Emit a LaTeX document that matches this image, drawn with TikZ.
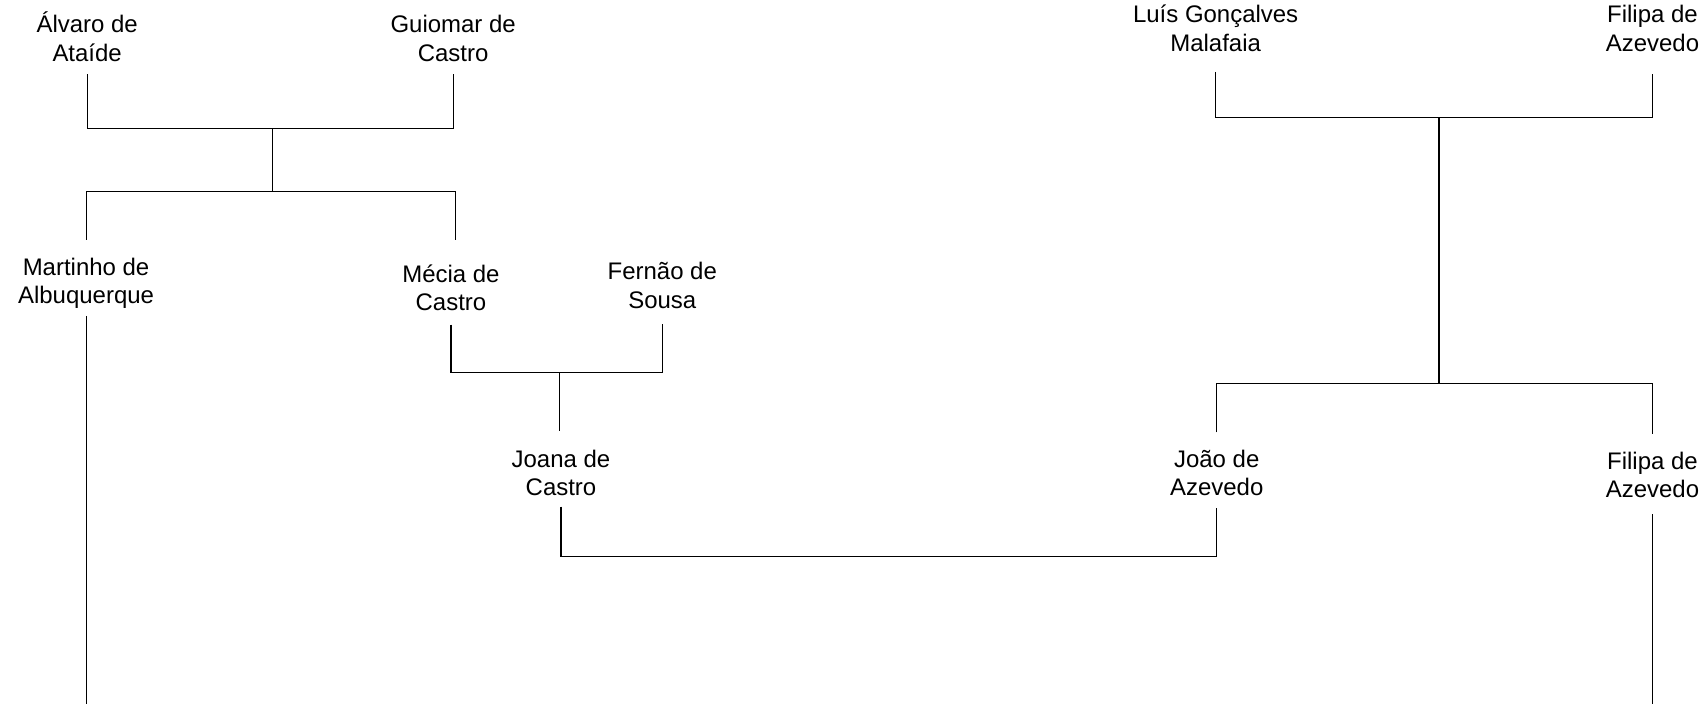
\documentclass[tikz,border=0pt]{standalone}
\usepackage{fontspec}
\setmainfont{Liberation Sans}
\newcommand{\twolines}[2]{\begin{tabular}[t]{@{}c@{}}#1\\#2\end{tabular}}
\tikzset{
  person/.style={inner sep=0pt, outer sep=0pt, anchor=base, text=black,
    font=\fontsize{22}{26}\selectfont},
  link/.style={line width=1pt, draw=black},
}
\begin{document}
\begin{tikzpicture}[x=1pt, y=-1pt]
\useasboundingbox (0,0) rectangle (1568,646);
% first generation
\node[person, text height=20pt, text depth=38pt] (alvaro)  at (80,30)   {\twolines{Álvaro de}{Ataíde}};
\node[person, text height=20pt, text depth=38pt] (guiomar) at (416,30)  {\twolines{Guiomar de}{Castro}};
\node[person, text height=20pt, text depth=45pt] (luis)    at (1116,21) {\twolines{Luís Gonçalves}{Malafaia}};
\node[person, text height=20pt, text depth=47pt] (filipaA) at (1517,21) {\twolines{Filipa de}{Azevedo}};
% second generation
\node[person, text height=33pt, text depth=37pt] (martinho) at (79,253)  {\twolines{Martinho de}{Albuquerque}};
\node[person, text height=39pt, text depth=39pt] (mecia)    at (414,259) {\twolines{Mécia de}{Castro}};
\node[person, text height=20pt, text depth=40pt] (fernao)   at (608,257) {\twolines{Fernão de}{Sousa}};
% third generation
\node[person, text height=33pt, text depth=36pt] (joana)    at (515,429)  {\twolines{Joana de}{Castro}};
\node[person, text height=32pt, text depth=37pt] (joao)     at (1117,429) {\twolines{João de}{Azevedo}};
\node[person, text height=33pt, text depth=41pt] (filipaB)  at (1517,431) {\twolines{Filipa de}{Azevedo}};
% junctions
\coordinate (u1) at (250,118);
\coordinate (c1) at (250,176);
\coordinate (u2) at (514,342);
\coordinate (m3) at (816,511);
\coordinate (u4) at (1321,108);
\coordinate (c4) at (1321,352);
\coordinate (e1) at (79,646);
\coordinate (e2) at (1517,646);
% connectors
\draw[link] (alvaro.south) |- (u1) -| (guiomar.south);
\draw[link] (u1) -- (c1);
\draw[link] (martinho.north) |- (c1) -| ([xshift=4pt]mecia.north);
\draw[link] (mecia.south) |- (u2) -| (fernao.south);
\draw[link] (u2) -- (u2 |- joana.north);
\draw[link] (joana.south) |- (m3) -| (joao.south);
\draw[link] (luis.south) |- (u4) -| (filipaA.south);
\draw[link] (u4) -- (c4);
\draw[link] (joao.north) |- (c4) -| (filipaB.north);
\draw[link] (martinho.south) -- (e1);
\draw[link] (filipaB.south) -- (e2);
\end{tikzpicture}
\end{document}
